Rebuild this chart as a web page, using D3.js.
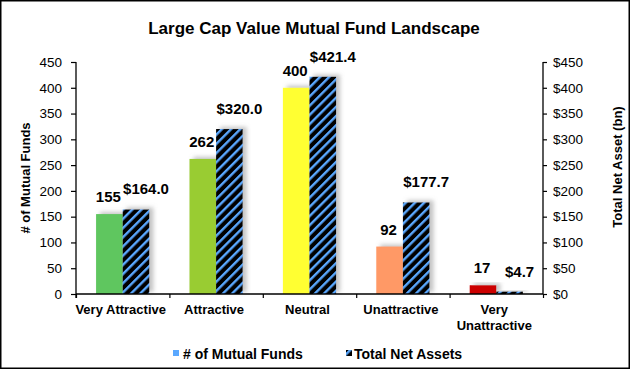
<!DOCTYPE html>
<html><head><meta charset="utf-8">
<script src="https://cdn.jsdelivr.net/npm/d3@7"></script>
<style>body{margin:0;background:#fff}svg{display:block;font-family:"Liberation Sans",Arial,sans-serif}</style>
</head><body><svg id="c" width="630" height="369"></svg>
<script>
const categories = [["Very Attractive"], ["Attractive"], ["Neutral"], ["Unattractive"], ["Very", "Unattractive"]];
const fundCounts = [155, 262, 400, 92, 17];
const netAssets = [164.0, 320.0, 421.4, 177.7, 4.7];
const fundColors = ["#5ec65e", "#99cc33", "#ffff33", "#ff9966", "#cc0000"];
const leftTicks = [0, 50, 100, 150, 200, 250, 300, 350, 400, 450];
const rightTicks = [0, 50, 100, 150, 200, 250, 300, 350, 400, 450];
const seriesNames = ["# of Mutual Funds", "Total Net Assets"];

const svg = d3.select("#c");
const W = 630, H = 369;
const m = {l: 76, r: 543, t: 62, b: 294};

const defs = svg.append("defs");
const pat = defs.append("pattern").attr("id", "hatch").attr("patternUnits", "userSpaceOnUse")
  .attr("width", 6.5).attr("height", 6.5).attr("patternTransform", "rotate(45)");
pat.append("rect").attr("width", 6.5).attr("height", 6.5).attr("fill", "#000");
pat.append("rect").attr("width", 2.4).attr("height", 6.5).attr("fill", "#5aa8ff");
const f = defs.append("filter").attr("id", "sh").attr("x", "-30%").attr("y", "-30%").attr("width", "160%").attr("height", "160%");
f.append("feDropShadow").attr("dx", 4).attr("dy", -2).attr("stdDeviation", 2).attr("flood-color", "#888").attr("flood-opacity", 0.5);

svg.append("rect").attr("x", 0.75).attr("y", 0.75).attr("width", W - 1.5).attr("height", H - 1.5)
  .attr("fill", "#fff").attr("stroke", "#000").attr("stroke-width", 1.5);

svg.append("text").attr("x", 314).attr("y", 34).attr("text-anchor", "middle")
  .attr("font-size", 17).attr("font-weight", "bold").text("Large Cap Value Mutual Fund Landscape");

const x = d3.scaleBand().domain(d3.range(categories.length)).range([m.l, m.r]).padding(0);
const yL = d3.scaleLinear().domain([0, 450]).range([m.b, m.t]);
const yR = d3.scaleLinear().domain([0, 450]).range([m.b, m.t]);
const bw = x.bandwidth() * 0.285;

// bars
const g = svg.append("g");
categories.forEach((c, i) => {
  const cx = x(i) + x.bandwidth() / 2;
  g.append("rect").attr("x", cx - bw).attr("y", yL(fundCounts[i])).attr("width", bw)
    .attr("height", yL(0) - yL(fundCounts[i])).attr("fill", fundColors[i]).attr("filter", "url(#sh)");
  g.append("rect").attr("x", cx).attr("y", yR(netAssets[i])).attr("width", bw)
    .attr("height", yR(0) - yR(netAssets[i])).attr("fill", "url(#hatch)").attr("filter", "url(#sh)");
});
// labels
categories.forEach((c, i) => {
  const cx = x(i) + x.bandwidth() / 2;
  svg.append("text").attr("x", cx - bw / 2 - 1).attr("y", yL(fundCounts[i]) - 12)
    .attr("text-anchor", "middle").attr("font-size", 15).attr("font-weight", "bold").text(fundCounts[i]);
  svg.append("text").attr("x", cx + bw / 2 + 10).attr("y", yR(netAssets[i]) - 15)
    .attr("text-anchor", "middle").attr("font-size", 15).attr("font-weight", "bold").text("$" + d3.format(".1f")(netAssets[i]));
});

// axes
const axL = svg.append("g").attr("transform", `translate(${m.l},0)`)
  .call(d3.axisLeft(yL).tickValues(leftTicks).tickSize(5).tickPadding(9));
const axR = svg.append("g").attr("transform", `translate(${m.r},0)`)
  .call(d3.axisRight(yR).tickValues(rightTicks).tickFormat(d => "$" + d).tickSize(4).tickPadding(6));
const axB = svg.append("g").attr("transform", `translate(0,${m.b})`)
  .call(d3.axisBottom(d3.scaleLinear().domain([0, 5]).range([m.l, m.r])).tickValues(d3.range(6)).tickSize(4).tickFormat(""));
[axL, axR, axB].forEach(a => {
  a.select(".domain").attr("stroke", "#000").attr("stroke-width", 1.3);
  a.selectAll(".tick line").attr("stroke", "#000").attr("stroke-width", 1.2);
  a.selectAll("text").attr("font-size", 13.5).attr("fill", "#000").attr("font-family", "'Liberation Sans',Arial,sans-serif");
});
axB.select(".domain").attr("d", `M${m.l},0H${m.r}`);
axL.select(".domain").attr("d", `M0,${m.t}V${m.b + 4}`);
axR.select(".domain").attr("d", `M0,${m.t}V${m.b}`);

// category labels
categories.forEach((c, i) => {
  const cx = x(i) + x.bandwidth() / 2;
  const t = svg.append("text").attr("text-anchor", "middle").attr("font-size", 13).attr("font-weight", "bold");
  c.forEach((line, j) => t.append("tspan").attr("x", cx - 2).attr("y", 314 + j * 15.5).text(line));
});

// axis titles
svg.append("text").attr("transform", "translate(30,178) rotate(-90)").attr("text-anchor", "middle")
  .attr("font-size", 13).attr("font-weight", "bold").text("# of Mutual Funds");
svg.append("text").attr("transform", "translate(622,167) rotate(-90)").attr("text-anchor", "middle")
  .attr("font-size", 13).attr("font-weight", "bold").text("Total Net Asset (bn)");

// legend
const lg = svg.append("g");
lg.append("rect").attr("x", 173).attr("y", 350).attr("width", 6).attr("height", 6).attr("fill", "#5aa8ff");
lg.append("text").attr("x", 183).attr("y", 359).attr("font-size", 14).attr("font-weight", "bold").text(seriesNames[0]);
lg.append("rect").attr("x", 346).attr("y", 350).attr("width", 6).attr("height", 6).attr("fill", "url(#hatch)");
lg.append("text").attr("x", 354).attr("y", 359).attr("font-size", 14).attr("font-weight", "bold").text(seriesNames[1]);
</script></body></html>
